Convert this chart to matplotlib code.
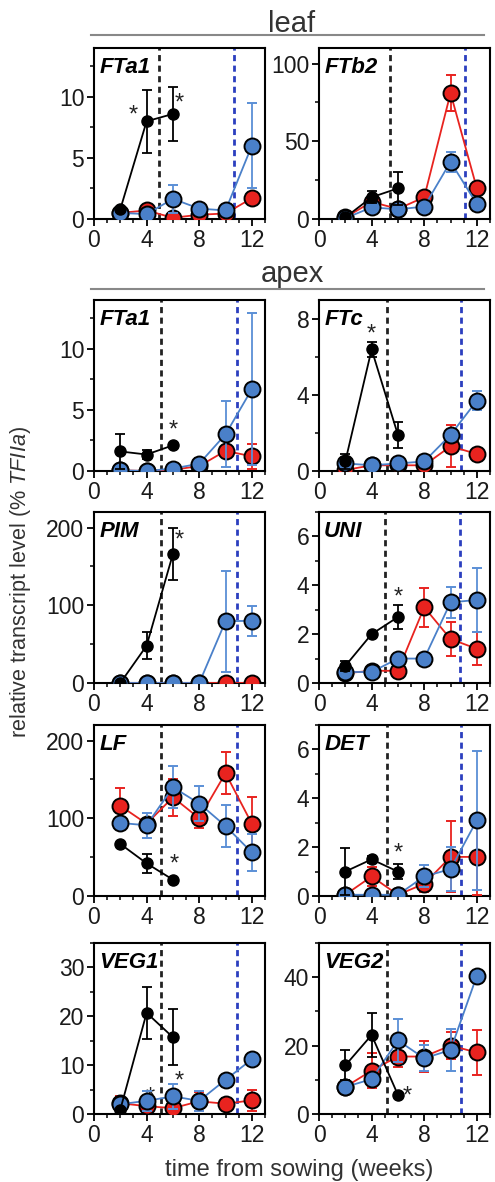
import matplotlib
matplotlib.use("Agg")
import matplotlib.pyplot as plt
from matplotlib.lines import Line2D
from matplotlib.ticker import MultipleLocator, AutoMinorLocator

plt.rcParams['font.family'] = ['Liberation Sans', 'DejaVu Sans']
plt.rcParams['mathtext.fontset'] = 'custom'
plt.rcParams['mathtext.rm'] = 'Liberation Sans'
plt.rcParams['mathtext.it'] = 'Liberation Sans:italic'

# ---------------- data ----------------
x_black = [2, 4, 6]
x_all = [2, 4, 6, 8, 10, 12]

genes = ["FTa1", "FTb2", "FTa1", "FTc", "PIM", "UNI", "LF", "DET", "VEG1", "VEG2"]
ymax = [14, 110, 14, 9, 220, 7, 220, 7, 35, 50]
ymajor = [5, 50, 5, 4, 100, 2, 100, 2, 10, 20]

black_mean = [
    [0.8, 8.0, 8.6], [1, 14, 19.7], [1.6, 1.35, 2.1], [0.5, 6.4, 1.9],
    [0, 48, 166], [0.7, 2.0, 2.7], [67, 42, 21], [1.0, 1.5, 1.0],
    [0.9, 20.7, 15.7], [14.2, 23.1, 5.6]]
black_err = [
    [0, 2.6, 2.2], [0.5, 4, 10.5], [1.4, 0.35, 0.1], [0.4, 0.4, 0.7],
    [0, 17, 33], [0.2, 0.05, 0.5], [0, 12, 0], [0.95, 0.15, 0.3],
    [0, 5.3, 5.7], [4.4, 6.3, 0]]
red_mean = [
    [0.5, 0.7, 0.1, 0.35, 0.45, 1.7], [1, 11, 6.5, 14, 81, 19.7],
    [0.05, 0, 0.1, 0.4, 1.65, 1.2], [0.05, 0.3, 0.3, 0.3, 1.3, 0.9],
    [0, 0, 0, 0, 0, 0], [0.4, 0.5, 0.5, 3.1, 1.8, 1.4],
    [116, 93, 127, 100, 158, 93], [0.05, 0.8, 0.05, 0.5, 1.6, 1.6],
    [2.2, 1.6, 1.2, 2.6, 2.1, 2.8], [7.9, 12.7, 16.8, 16.8, 20, 18]]
red_err = [
    [0.1, 0.1, 0.1, 0.2, 0.2, 0.2], [0.5, 2, 1, 2, 11.5, 3],
    [0, 0, 0, 0.1, 0.3, 1.05], [0, 0, 0, 0, 1.1, 0.1],
    [0, 0, 0, 0, 0, 0], [0.05, 0.1, 0.05, 0.8, 0.7, 0.67],
    [23, 6, 24, 13, 27, 35], [0, 0.4, 0, 0.35, 1.45, 1.55],
    [1.5, 0.5, 0.5, 2, 1.2, 2.2], [0.5, 5, 3.2, 4.5, 4, 6.6]]
blue_mean = [
    [0.5, 0.4, 1.65, 0.85, 0.7, 6.0], [0.5, 7.5, 6.2, 8, 36.8, 9.6],
    [0.05, 0, 0.2, 0.6, 3.0, 6.7], [0.4, 0.3, 0.4, 0.5, 1.9, 3.7],
    [0, 0, 0, 0, 79.5, 80], [0.45, 0.45, 1.0, 1.0, 3.3, 3.4],
    [94, 91, 140, 119, 90, 56], [0.05, 0.05, 0.05, 0.8, 1.1, 3.1],
    [2.0, 2.7, 3.6, 2.7, 7.0, 11.2], [7.9, 10.2, 21.5, 16.3, 18.7, 40.4]]
blue_err = [
    [0.2, 0.2, 1.15, 0.3, 0.2, 3.5], [0.5, 2, 1, 1.5, 6.3, 1.5],
    [0, 0, 0.1, 0.5, 2.7, 6.2], [0.1, 0.05, 0.1, 0.1, 0.15, 0.5],
    [0, 0, 0, 0, 65, 19], [0.1, 0.1, 0.05, 0.1, 0.65, 1.3],
    [5, 16, 27, 22, 27, 24], [0, 0, 0, 0.45, 0.9, 2.85],
    [0.5, 2, 2.6, 2, 0.3, 0.3], [0.5, 1, 6.3, 3.8, 6.2, 1.5]]

vline_black = [4.95, 5.4, 5.1, 5.15, 5.1, 5.0, 5.1, 5.15, 5.1, 5.15]
vline_blue = [10.65, 11.1, 10.85, 10.8, 10.85, 10.75, 10.85, 10.8, 10.85, 10.8]

star_x = [[3.0, 6.5], [], [6.0], [4.0], [6.5], [6.0], [6.1], [6.0], [6.5, 4.3], [6.7]]
star_y = [[8.5, 9.45], [], [3.35], [7.2], [183], [3.5], [41], [1.75], [6.6, 3.4], [5.2]]

# ---------------- layout ----------------
W, H = 495, 1182
fig = plt.figure(figsize=(W / 100, H / 100), dpi=100)

col_left = [94, 319]
ax_w = 171
row_tops = [48, 300, 512, 725, 943]
ax_h = 171

RED = "#e8231f"
BLUE = "#4a80c9"
BLUE_E = "#5b8fd6"

for i, gene in enumerate(genes):
    r, c = divmod(i, 2)
    left = col_left[c] / W
    bottom = 1 - (row_tops[r] + ax_h) / H
    ax = fig.add_axes([left, bottom, ax_w / W, ax_h / H])

    ax.axvline(vline_black[i], color="#222222", ls=(0, (2.2, 1.6)), lw=2.0, zorder=1)
    ax.axvline(vline_blue[i], color="#2b3fbf", ls=(0, (2.2, 1.6)), lw=2.0, zorder=1)

    ax.errorbar(x_all, red_mean[i], yerr=red_err[i], color=RED, ecolor=RED,
                lw=1.3, elinewidth=1.3, capsize=3.5, capthick=1.3, marker='o',
                ms=11.5, mfc=RED, mec='black', mew=1.4, zorder=3)
    ax.errorbar(x_all, blue_mean[i], yerr=blue_err[i], color=BLUE, ecolor=BLUE_E,
                lw=1.3, elinewidth=1.3, capsize=3.5, capthick=1.3, marker='o',
                ms=11.5, mfc=BLUE, mec='black', mew=1.4, zorder=4)
    ax.errorbar(x_black, black_mean[i], yerr=black_err[i], color='black', ecolor='black',
                lw=1.3, elinewidth=1.3, capsize=3.5, capthick=1.3, marker='o',
                ms=8, mfc='black', mec='black', zorder=5)

    for sx, sy in zip(star_x[i], star_y[i]):
        ax.text(sx, sy, "*", fontsize=17, ha='center', va='center', color='#222222', zorder=2)

    ax.set_xlim(0, 13)
    ax.set_ylim(0, ymax[i])
    ax.xaxis.set_major_locator(MultipleLocator(4))
    ax.xaxis.set_minor_locator(MultipleLocator(1))
    ax.yaxis.set_major_locator(MultipleLocator(ymajor[i]))
    ax.yaxis.set_minor_locator(AutoMinorLocator(2))
    ax.tick_params(which='major', direction='out', length=5, width=1.3, labelsize=16.5,
                   pad=2, labelcolor='#1a1a1a')
    ax.tick_params(which='minor', direction='out', length=3, width=1.1)
    for sp in ax.spines.values():
        sp.set_linewidth(1.5)
    ax.text(0.03, 0.95, gene, transform=ax.transAxes, fontsize=16,
            fontweight='bold', fontstyle='italic', ha='left', va='top', zorder=6)

# headers
for label, ytxt, yline in [("leaf", 24, 35), ("apex", 274, 289)]:
    fig.text(292 / W, 1 - ytxt / H, label, fontsize=21, ha='center', va='center', color='#333333')
    fig.add_artist(Line2D([91 / W, 484 / W], [1 - yline / H, 1 - yline / H],
                          transform=fig.transFigure, color='#888888', lw=1.5))

fig.text(21 / W, 1 - 582 / H, r"relative transcript level (% $\it{TFIIa}$)", rotation=90,
         fontsize=15.6, ha='center', va='center', color='#333333')
fig.text(299 / W, 1 - 1170 / H, "time from sowing (weeks)", fontsize=17,
         ha='center', va='center', color='#333333')

fig.savefig("out.png", dpi=100)
